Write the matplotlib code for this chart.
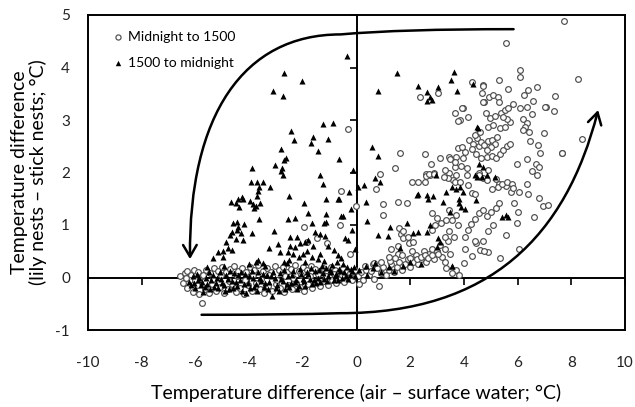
import matplotlib
matplotlib.use("Agg")
import matplotlib.pyplot as plt
from matplotlib.path import Path
from matplotlib.patches import FancyArrowPatch

# ---- data ----
# open circles: midnight to 1500
circ_band = [
    (-6.57, 0.03), (-6.4, 0.08), (-6.3, 0.12), (-6.15, 0.05), (-6.05, 0.14), (-5.9, 0.1),
    (-5.75, 0.02), (-5.6, 0.15), (-5.45, 0.08), (-5.3, 0.18), (-5.15, 0.12), (-5.0, 0.2),
    (-4.85, 0.1), (-4.7, 0.16), (-4.55, 0.22), (-4.4, 0.12), (-4.25, 0.18), (-4.1, 0.1),
    (-3.95, 0.2), (-3.8, 0.14), (-3.65, 0.24), (-3.5, 0.12), (-3.35, 0.18), (-3.2, 0.1),
    (-3.05, 0.22), (-2.9, 0.15), (-2.75, 0.2), (-2.6, 0.1), (-2.45, 0.17), (-2.3, 0.24),
    (-2.15, 0.12), (-2.0, 0.2), (-1.85, 0.14), (-1.7, 0.22), (-1.55, 0.16), (-1.4, 0.1),
    (-1.25, 0.18), (-1.1, 0.12), (-0.95, 0.2), (-0.8, 0.14), (-0.65, 0.1), (-0.5, 0.18),
    (-0.35, 0.12), (-0.2, 0.06), (-0.05, 0.14),
    (-6.45, -0.1), (-6.3, -0.2), (-6.2, -0.05), (-6.1, -0.28), (-5.95, -0.15), (-5.85, -0.32),
    (-5.74, -0.49), (-5.65, -0.22), (-5.5, -0.3), (-5.4, -0.12), (-5.25, -0.26), (-5.1, -0.18),
    (-4.95, -0.3), (-4.8, -0.22), (-4.65, -0.12), (-4.5, -0.28), (-4.35, -0.2), (-4.2, -0.32),
    (-4.05, -0.15), (-3.9, -0.25), (-3.75, -0.1), (-3.6, -0.22), (-3.45, -0.3), (-3.3, -0.16),
    (-3.15, -0.25), (-3.0, -0.12), (-2.85, -0.2), (-2.7, -0.28), (-2.55, -0.14), (-2.4, -0.22),
    (-2.25, -0.1), (-2.1, -0.18), (-1.95, -0.26), (-1.8, -0.12), (-1.65, -0.2), (-1.5, -0.08),
    (-1.35, -0.16), (-1.2, -0.06), (-1.05, -0.14), (-0.9, -0.04), (-0.75, -0.1), (-0.6, -0.02),
    (-0.45, -0.08), (-0.3, 0.0), (-0.15, -0.05),
    (-6.35, 0.0), (-6.0, -0.05), (-5.7, 0.05), (-5.35, -0.03), (-5.05, 0.04), (-4.75, -0.06),
    (-4.45, 0.02), (-4.15, -0.04), (-3.85, 0.05), (-3.55, -0.02), (-3.25, 0.04), (-2.95, -0.05),
    (-2.65, 0.03), (-2.35, 0.0), (-2.05, 0.05), (-1.75, 0.02), (-1.45, 0.06), (-1.15, 0.03),
    (-0.85, 0.07), (-0.55, 0.05), (-0.25, 0.08),
]
circ_low_right = [
    (0.05, 0.02), (0.15, 0.1), (0.25, -0.05), (0.35, 0.15), (0.45, 0.05), (0.55, 0.12),
    (0.65, -0.02), (0.75, 0.18), (0.84, -0.16), (0.9, 0.08), (1.0, 0.2), (1.1, 0.05),
    (1.2, 0.15), (1.3, 0.25), (1.4, 0.1), (1.5, 0.2), (1.6, 0.3), (1.7, 0.15), (1.8, 0.25),
    (1.9, 0.35), (2.0, 0.2), (2.1, 0.3), (2.2, 0.42), (2.3, 0.25), (2.4, 0.35), (2.5, 0.5),
    (2.6, 0.3), (2.7, 0.45), (2.8, 0.55), (2.9, 0.35), (3.0, 0.5), (3.1, 0.62), (3.2, 0.4),
    (3.3, 0.55), (3.4, 0.7), (3.5, 0.45), (0.1, -0.12), (0.3, 0.22), (0.6, 0.25),
    (1.25, 0.32), (1.55, 0.45),
]
circ_scatter = [
    (-0.33, 2.83), (-0.58, 1.65), (-1.94, 0.97), (-1.48, 0.75), (-1.85, 0.68), (-1.11, 0.65),
    (-0.02, 1.36), (-0.6, 1.0), (-0.25, 0.45),
    (5.56, 4.46), (7.73, 4.89), (6.09, 3.95), (6.09, 3.81), (8.26, 3.79), (5.32, 3.77),
    (4.70, 3.66), (4.66, 3.52), (5.63, 3.59), (6.40, 3.57), (6.71, 3.63), (6.24, 3.48),
    (7.39, 3.46), (4.75, 3.35), (4.95, 3.43), (5.10, 3.48), (5.28, 3.44), (5.32, 3.35),
    (5.84, 3.30), (6.09, 3.22), (6.36, 3.24), (6.56, 3.37), (6.52, 3.11), (7.06, 3.24),
    (7.37, 3.17), (3.67, 3.13), (3.96, 3.22), (4.16, 3.05), (3.85, 3.00), (4.82, 3.13),
    (4.97, 3.03), (5.16, 3.08), (5.37, 3.14), (5.53, 3.19), (5.65, 3.22), (4.91, 2.87),
    (5.10, 2.90), (5.34, 2.84), (5.53, 2.87), (5.72, 2.97), (5.59, 3.01), (5.44, 3.05),
    (6.21, 3.01), (6.34, 2.94), (6.28, 2.87), (6.44, 2.78), (6.21, 2.81), (6.98, 2.76),
    (8.39, 2.63), (7.67, 2.37), (6.46, 2.60), (6.77, 2.52), (6.83, 2.37), (6.36, 2.26),
    (6.69, 2.17), (6.81, 2.10), (6.53, 2.03), (6.71, 1.95), (5.99, 2.17),
    (2.36, 3.44), (3.02, 3.51), (4.29, 3.72), (4.72, 3.65), (4.72, 3.35), (3.94, 3.23),
    (3.79, 2.99), (1.62, 2.38), (2.55, 2.35), (2.77, 2.17), (3.11, 2.28), (3.46, 2.29),
    (3.71, 2.30), (3.98, 2.27), (4.04, 2.40), (3.77, 2.46), (3.92, 2.48), (1.43, 2.08),
    (0.88, 1.97), (2.60, 1.98), (2.75, 1.96), (2.90, 2.0), (3.67, 2.11), (3.89, 2.12),
    (4.10, 2.08), (0.73, 1.68),
    (4.2, 2.62), (4.35, 2.55), (4.5, 2.65), (4.55, 2.5), (4.65, 2.58), (4.75, 2.52),
    (4.9, 2.6), (5.05, 2.62), (5.15, 2.55), (5.0, 2.48), (4.85, 2.42), (4.4, 2.72),
    (4.3, 2.45), (5.25, 2.68), (4.6, 2.78),
    (3.5, 2.25), (3.65, 2.2), (3.45, 2.0), (3.7, 1.95), (3.6, 1.85), (3.4, 1.9), (3.3, 2.05),
    (3.25, 1.92), (4.45, 2.35), (4.65, 2.28), (4.85, 2.3), (5.05, 2.32), (5.2, 2.28),
    (5.35, 2.36), (5.45, 2.42), (5.6, 2.5), (5.7, 2.55), (4.55, 2.0), (4.7, 1.9), (4.9, 2.05),
    (4.85, 1.85), (5.2, 1.88), (5.3, 1.78), (5.55, 1.75),
    (1.0, 1.40), (1.56, 1.44), (1.87, 1.41), (1.0, 1.19), (2.06, 1.81), (2.30, 1.82),
    (2.55, 1.81), (2.58, 1.93), (2.70, 1.98), (2.90, 1.97),
    (3.67, 1.82), (3.85, 1.82), (4.10, 1.95), (4.16, 1.76), (4.29, 1.61), (4.41, 1.59),
    (4.56, 1.95), (5.04, 1.68), (5.28, 1.72), (5.41, 1.79), (5.59, 1.82), (5.78, 1.78),
    (5.88, 1.41), (5.75, 1.63),
    (2.80, 1.23), (2.99, 1.13), (3.15, 1.04), (2.92, 1.0), (2.80, 0.90),
    (1.6, 0.95), (1.65, 0.82), (1.75, 0.88), (1.72, 0.75), (1.9, 0.78), (1.95, 0.65),
    (2.1, 0.68), (2.05, 0.5), (1.98, 0.38), (2.25, 0.35), (2.4, 0.4), (2.55, 0.42),
    (2.68, 0.38), (2.8, 0.42), (3.05, 0.45), (1.55, 0.6), (1.3, 0.55), (1.2, 0.4),
    (1.45, 0.38), (1.7, 0.42), (0.9, 0.3), (0.65, 0.28),
    (3.32, 1.1), (3.45, 1.28), (3.55, 1.1), (3.72, 1.2), (3.78, 1.0), (3.45, 0.88),
    (3.62, 0.78), (3.3, 0.78),
    (4.05, 0.78), (4.15, 0.9), (4.25, 1.02), (4.4, 1.12), (4.55, 1.22), (4.7, 1.28),
    (4.85, 1.18), (5.0, 1.25), (5.2, 1.32), (5.3, 1.42), (5.1, 1.0), (4.9, 0.88), (4.7, 0.7),
    (4.45, 0.65), (4.6, 0.52), (4.9, 0.48), (4.05, 0.55), (4.0, 0.28),
    (3.3, 0.3), (3.35, 0.18), (3.7, 0.15), (3.8, 0.05), (3.55, 0.08),
    (5.84, 1.70), (6.06, 1.63), (6.40, 1.60), (6.34, 1.79), (6.81, 1.51), (6.96, 1.36),
    (7.14, 1.38), (6.62, 1.16), (6.03, 1.25), (5.97, 1.04), (5.57, 0.81), (6.06, 0.54),
    (5.34, 0.37), (4.75, 0.51), (4.29, 0.41), (4.41, 0.70), (7.64, 2.37), (7.02, 3.24),
]

# filled triangles: 1500 to midnight
tri_band = [
    (-6.25, -0.08), (-6.1, 0.02), (-6.0, -0.2), (-5.9, -0.05), (-5.8, -0.15), (-5.7, -0.28),
    (-5.6, 0.0), (-5.55, -0.12), (-5.45, -0.22), (-5.35, 0.05), (-5.25, -0.1), (-5.15, -0.2),
    (-5.05, -0.02), (-4.95, -0.14), (-4.85, 0.04), (-4.75, -0.22), (-4.65, -0.06), (-4.55, 0.08),
    (-4.45, -0.16), (-4.35, -0.04), (-4.25, -0.26), (-4.15, 0.06), (-4.05, -0.1), (-3.95, -0.2),
    (-3.85, 0.0), (-3.75, -0.12), (-3.65, 0.1), (-3.55, -0.06), (-3.45, -0.18), (-3.35, 0.04),
    (-3.25, -0.08), (-3.15, -0.35), (-3.05, 0.0), (-2.95, -0.14), (-2.85, 0.08), (-2.75, -0.06),
    (-2.65, -0.22), (-2.55, 0.02), (-2.45, -0.1), (-2.35, 0.12), (-2.25, -0.04), (-2.15, -0.16),
    (-2.05, 0.06), (-1.95, -0.06), (-1.85, 0.1), (-1.75, -0.02), (-1.65, -0.12), (-1.55, 0.12),
    (-1.45, 0.0), (-1.35, -0.08), (-1.25, 0.08), (-1.15, 0.18), (-1.05, 0.02), (-0.95, 0.1),
    (-0.85, -0.04), (-0.75, 0.06), (-0.65, 0.16), (-0.55, 0.0), (-0.45, 0.1), (-0.35, 0.2),
    (-0.25, 0.04), (-0.15, 0.12), (-0.05, 0.02),
    (-6.15, -0.15), (-5.95, 0.06), (-5.75, -0.08), (-5.5, 0.1), (-5.3, -0.18), (-5.1, 0.1),
    (-4.9, -0.25), (-4.7, 0.12), (-4.5, -0.08), (-4.3, 0.1), (-4.1, -0.3), (-3.9, 0.12),
    (-3.7, -0.26), (-3.5, 0.06), (-3.3, -0.22), (-3.1, 0.1), (-2.9, -0.26), (-2.7, 0.14),
    (-2.5, -0.18), (-2.3, -0.08), (-2.1, 0.16), (-1.9, -0.16), (-1.7, 0.18), (-1.5, -0.1),
    (-1.3, 0.22), (-1.1, -0.06), (-0.9, 0.24), (-0.7, -0.04), (-0.5, 0.25), (-0.3, -0.02),
    (-0.1, 0.2),
    (-6.05, -0.1), (-5.85, 0.0), (-5.65, -0.18), (-5.42, -0.05), (-5.2, 0.0), (-5.0, -0.1),
    (-4.8, -0.02), (-4.6, -0.2), (-4.4, 0.04), (-4.2, -0.12), (-4.0, 0.02), (-3.8, -0.18),
    (-3.6, 0.0), (-3.4, -0.1), (-3.2, 0.02), (-3.0, -0.2), (-2.8, -0.02), (-2.6, -0.12),
    (-2.4, 0.04), (-2.2, -0.22), (-2.0, -0.02), (-1.8, 0.06), (-1.6, -0.04), (-1.4, 0.14),
    (-1.2, -0.02), (-1.0, 0.14), (-0.8, 0.02), (-0.6, 0.12), (-0.4, 0.02), (-0.2, 0.16),
    (-5.58, 0.2), (-4.95, 0.22), (-4.02, 0.25), (-3.42, 0.22), (-2.6, 0.28), (-1.9, 0.3),
    (-1.2, 0.32), (-0.72, 0.3),
    (0.1, 0.15), (0.35, 0.22), (0.4, 0.05), (0.6, 0.18), (0.9, 0.1), (1.2, 0.2), (1.4, 0.12),
    (1.75, 0.22), (2.0, 0.3), (2.4, 0.25), (0.7, 0.28), (3.55, 0.22),
]
tri_left = [
    (-0.37, 4.22), (-2.70, 3.90), (-2.02, 3.75), (-3.10, 3.56), (-2.73, 3.46), (-1.24, 2.92),
    (-0.86, 2.94), (-2.45, 2.80), (-2.33, 2.61), (-1.61, 2.67), (-1.71, 2.56), (-1.07, 2.63),
    (-2.82, 2.44), (-1.42, 2.41), (-2.63, 2.27), (-2.70, 2.23), (-3.04, 2.14), (-0.64, 2.25),
    (-3.90, 2.08), (-2.80, 2.02), (-2.72, 1.95), (-2.76, 2.08), (-1.36, 1.95), (-3.94, 1.81),
    (-3.72, 1.82), (-3.62, 1.72), (-3.50, 1.82), (-3.22, 1.72), (-3.67, 1.65), (-3.70, 1.56),
    (-1.24, 1.78), (-2.50, 1.56), (-0.27, 1.62), (-4.69, 1.44), (-4.50, 1.42), (-4.42, 1.50),
    (-4.28, 1.54), (-4.22, 1.50), (-4.36, 1.34), (-3.96, 1.46), (-3.86, 1.40), (-3.80, 1.33),
    (-3.75, 1.36), (-3.60, 1.42), (-1.15, 1.49), (-0.70, 1.49), (-0.65, 1.49), (-1.96, 1.41),
    (-1.80, 1.23), (-1.15, 1.21), (-2.56, 1.11), (-2.28, 1.13), (-3.63, 1.11), (-1.15, 1.06),
    (-1.21, 1.03), (-0.58, 1.17), (-0.49, 1.17), (-4.60, 1.03), (-4.45, 1.06), (-4.40, 0.97),
    (-4.18, 1.02), (-4.65, 0.87), (-4.46, 0.90), (-4.31, 0.84), (-4.71, 0.81), (-3.88, 0.85),
    (-1.67, 1.03), (-1.55, 0.87), (-3.07, 0.89), (-2.48, 0.77), (-2.20, 0.78), (-4.24, 0.71),
    (-4.49, 0.73), (-4.86, 0.68), (-1.36, 0.83), (-1.17, 0.79), (-0.43, 0.75), (-0.31, 0.71),
    (-3.25, 0.56), (-2.91, 0.64), (-2.85, 0.49), (-4.98, 0.51), (-4.80, 0.56), (-5.17, 0.49),
    (-5.33, 0.38), (-4.96, 0.40), (-4.65, 0.52), (-2.48, 0.60), (-2.29, 0.59), (-2.10, 0.65),
    (-1.92, 0.68), (-1.80, 0.71), (-1.61, 0.60), (-2.55, 0.48), (-2.35, 0.45), (-2.15, 0.40),
    (-1.98, 0.45), (-1.85, 0.50), (-1.65, 0.40), (-1.45, 0.35), (-1.35, 0.45), (-1.05, 0.60),
    (-0.85, 0.52), (-0.70, 0.42), (-0.58, 0.38), (-3.67, 0.33), (-3.74, 0.30), (-3.47, 0.27),
    (-2.70, 0.30), (-2.50, 0.33), (-0.15, 0.9), (-0.05, 0.55), (-0.12, 2.05), (-0.2, 1.3),
]
tri_right = [
    (1.52, 3.89), (0.79, 3.56), (2.28, 3.65), (2.61, 3.53), (3.05, 3.62), (2.74, 3.43),
    (2.82, 3.39), (2.61, 3.37), (3.64, 3.91), (3.52, 3.76), (3.75, 3.56), (4.35, 3.69),
    (0.59, 2.48), (0.81, 2.31), (4.51, 2.85), (4.56, 2.16), (4.72, 2.11), (2.96, 1.95),
    (0.69, 1.90), (0.87, 1.82), (4.48, 2.86), (5.16, 1.92), (4.48, 1.92), (0.29, 1.76),
    (0.07, 1.73), (0.35, 1.43), (0.39, 1.08), (0.81, 0.81), (1.18, 0.80), (1.25, 0.97),
    (1.62, 0.56), (1.87, 1.03), (2.12, 0.84), (2.30, 0.87), (2.61, 0.87), (2.74, 1.0),
    (2.24, 1.57), (2.30, 1.60), (2.61, 1.57), (2.67, 1.49), (2.86, 1.55), (3.23, 1.43),
    (3.48, 1.25), (3.35, 1.62), (3.55, 1.72), (3.72, 1.68), (3.85, 1.72), (3.95, 1.62),
    (3.80, 1.50), (3.82, 1.42), (3.88, 1.35), (4.05, 1.30), (4.45, 1.48), (2.99, 0.59),
    (3.11, 0.68), (3.05, 0.75), (3.55, 0.22), (5.41, 1.16), (5.65, 1.16), (4.41, 1.95),
    (4.66, 1.92), (4.85, 1.95), (5.55, 1.2),
]

series_labels = ["Midnight to 1500", "1500 to midnight"]
x_ticks = [-10, -8, -6, -4, -2, 0, 2, 4, 6, 8, 10]
y_ticks = [-1, 0, 1, 2, 3, 4, 5]

# hand-drawn cycle arrows (bezier control points, data units)
arrow_top = [(5.85, 4.73), (3.0, 4.73), (1.0, 4.70), (-0.6, 4.63),
             (-4.2, 4.63), (-6.25, 3.1), (-6.2, 0.35)]
arrow_bottom = [(-5.77, -0.71), (-3.5, -0.71), (-2.0, -0.70), (-0.6, -0.68),
                (5.0, -0.68), (7.8, 0.8), (9.0, 3.19)]

plt.rcParams['font.family'] = ['Lato', 'DejaVu Sans']
plt.rcParams['axes.unicode_minus'] = False

fig = plt.figure(figsize=(6.35, 4.07), dpi=100)
rect = [88 / 635, 1 - 330 / 407, 537 / 635, 315 / 407]

# frame axes: holds tick labels and titles
frame = fig.add_axes(rect)
frame.set_xlim(-10, 10)
frame.set_ylim(-1, 5)
frame.set_xticks(x_ticks)
frame.set_yticks(y_ticks)
frame.tick_params(length=0, labelsize=11, colors='#222222')
frame.tick_params(axis='x', pad=19)
frame.tick_params(axis='y', pad=13)
for s in frame.spines.values():
    s.set_linewidth(1.4)
frame.set_xlabel("Temperature difference (air \u2013 surface water; \u00b0C)", fontsize=14, labelpad=10)
frame.set_ylabel("Temperature difference\n(lily nests \u2013 stick nests; \u00b0C)", fontsize=14,
                 labelpad=6, linespacing=1.05)

# data axes: crossing axes at zero with outward ticks
ax = fig.add_axes(rect, facecolor='none')
ax.set_xlim(-10, 10)
ax.set_ylim(-1, 5)
ax.set_xticks(x_ticks)
ax.set_yticks(y_ticks)
ax.spines['left'].set_position(('data', 0))
ax.spines['bottom'].set_position(('data', 0))
ax.spines['top'].set_visible(False)
ax.spines['right'].set_visible(False)
for s in ('left', 'bottom'):
    ax.spines[s].set_linewidth(1.4)
ax.tick_params(direction='out', length=5, width=1.2, labelleft=False, labelbottom=False)

cx = [p[0] for p in circ_band + circ_low_right + circ_scatter]
cy = [p[1] for p in circ_band + circ_low_right + circ_scatter]
tx = [p[0] for p in tri_band + tri_left + tri_right]
ty = [p[1] for p in tri_band + tri_left + tri_right]

ax.scatter(cx, cy, s=17, marker='o', facecolors='white', edgecolors='#4d4d4d',
           linewidths=0.85, zorder=3, label=series_labels[0])
ax.scatter(tx, ty, s=19, marker='^', color='black', linewidths=0, zorder=4,
           label=series_labels[1])

leg = ax.legend(loc='upper left', bbox_to_anchor=(0.02, 0.99), frameon=False, fontsize=10,
                handletextpad=0.2, handlelength=1.0, labelspacing=1.0, markerscale=0.9)

for pts in (arrow_top, arrow_bottom):
    codes = [Path.MOVETO] + [Path.CURVE4] * (len(pts) - 1)
    arr = FancyArrowPatch(path=Path(pts, codes), arrowstyle='->,head_length=0.6,head_width=0.35',
                          mutation_scale=14, lw=1.8, color='black', zorder=5)
    ax.add_patch(arr)

fig.savefig("out.png", dpi=100)
